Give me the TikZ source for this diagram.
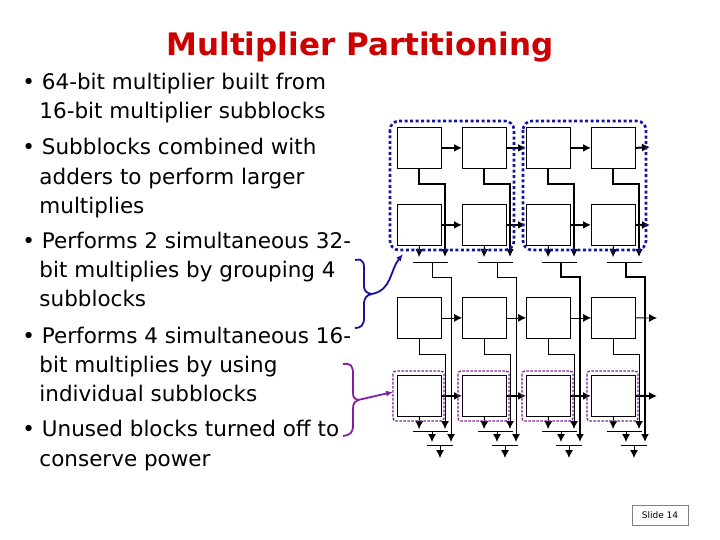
\documentclass[tikz,border=0pt]{standalone}
\usepackage{fontspec}
\setmainfont{DejaVu Sans}
\usetikzlibrary{arrows.meta}
\definecolor{ttl}{RGB}{204,0,0}
\definecolor{bl}{RGB}{20,20,160}
\definecolor{pu}{RGB}{128,32,160}
\tikzset{blk/.style={draw,line width=0.8pt,minimum width=44pt,minimum height=41pt,inner sep=0,anchor=north west},
 ar/.style={-{Latex[length=8pt,width=8pt]}},
 thk/.style={line width=2pt},
 tx/.style={anchor=base west,inner sep=0,font=\fontsize{21.5}{21.5}\selectfont}}
\begin{document}
\begin{tikzpicture}[x=1pt,y=-1pt,line width=0.9pt]
\useasboundingbox (0,0) rectangle (720,540);
\node[anchor=base,inner sep=0,text=ttl,font=\fontsize{31}{31}\bfseries\selectfont] (title) at (360,56) {Multiplier Partitioning};
\foreach \t/\x/\y [count=\i] in {{• 64-bit multiplier built from}/22/90,{16-bit multiplier subblocks}/39/119,
{• Subblocks combined with}/22/155,{adders to perform larger}/39/185,{multiplies}/39/214,
{• Performs 2 simultaneous 32-}/22/248,{bit multiplies by grouping 4}/39/277,{subblocks}/39/306,
{• Performs 4 simultaneous 16-}/22/343,{bit multiplies by using}/39/372,{individual subblocks}/39/401,
{• Unused blocks turned off to}/22/436,{conserve power}/39/466}
  \node[tx] (t\i) at (\x,\y) {\t};
\foreach \c/\x in {1/397,2/462,3/526,4/591}{
  \foreach \r/\y in {1/127,2/204,3/297,4/375}
    \node[blk] (b\r\c) at (\x,\y) {};
}
\foreach \r/\w in {1/thk,2/thk,3/semithick,4/thk}{
  \foreach \c [evaluate=\c as \n using int(\c+1)] in {1,2,3}
    \draw[ar,\w] (b\r\c.east) -- (b\r\n.west);
}
\coordinate (e1) at (650,147); \coordinate (e2) at (650,225);
\coordinate (e3) at (657,318); \coordinate (e4) at (657,396);
\foreach \r in {1,2,4} \draw[ar,thk] (b\r4.east) -- (e\r);
\draw[ar] (b34.east) -- (e3);
\foreach \c/\x in {1/397,2/462,3/526,4/591}{
  \draw[ar,thk] (b1\c.south) -- ++(0,15) -| (\x+48,257);
  \draw[ar] (b2\c.south) -- (\x+22,257);
  \draw (\x+16,262) -- (\x+51,262);
  \draw[ar,line width=\ifnum\c>2 2pt\else 1pt\fi] (\x+35,262) -- (\x+35,277) -| (\x+54,442);
  \draw[ar] (b3\c.south) -- ++(0,16) -| (\x+48,429);
  \draw[ar] (b4\c.south) -- (\x+22,429);
  \draw (\x+16,431) -- (\x+51,431);
  \draw[ar] (\x+35,431) -- (\x+35,442);
  \draw (\x+30,445) -- (\x+56,445);
  \draw[ar] (\x+43,445) -- (\x+43,458);
  \draw[pu,line width=1.3pt,rounded corners=3pt,dash pattern=on 2.5pt off 1.5pt] (\x-4,371) rectangle (\x+47,421);
}
\draw[bl,line width=2.6pt,dash pattern=on 3pt off 2.5pt,rounded corners=9pt] (390,121) rectangle (514,250);
\draw[bl,line width=2.6pt,dash pattern=on 3pt off 2.5pt,rounded corners=9pt] (523,121) rectangle (646,250);
\draw[bl,line width=1.8pt] (355,260) .. controls (365,258) and (364,264) .. (364,275) -- (364,285) .. controls (364,292) and (367,293) .. (372,294)
  (372,294) .. controls (367,295) and (364,297) .. (364,305) -- (364,318) .. controls (364,326) and (360,328) .. (355,328);
\draw[bl,line width=1.8pt,-{Latex[length=7pt,width=6pt]}] (372,294) .. controls (392,290) and (390,270) .. (403,254);
\draw[pu,line width=1.8pt] (343,364) .. controls (351,363) and (353,366) .. (353,374) -- (353,393) .. controls (353,398) and (355,399) .. (358,400)
  (358,400) .. controls (355,401) and (353,403) .. (353,409) -- (353,425) .. controls (353,433) and (350,435) .. (343,436);
\draw[pu,line width=1.8pt,-{Latex[length=7pt,width=6pt]}] (358,400) -- (393,392);
\node[draw=gray,line width=0.5pt,minimum width=56pt,minimum height=20pt,inner sep=0,font=\fontsize{9}{9}\selectfont] (sl) at (660,515) {Slide 14};
\end{tikzpicture}
\end{document}
